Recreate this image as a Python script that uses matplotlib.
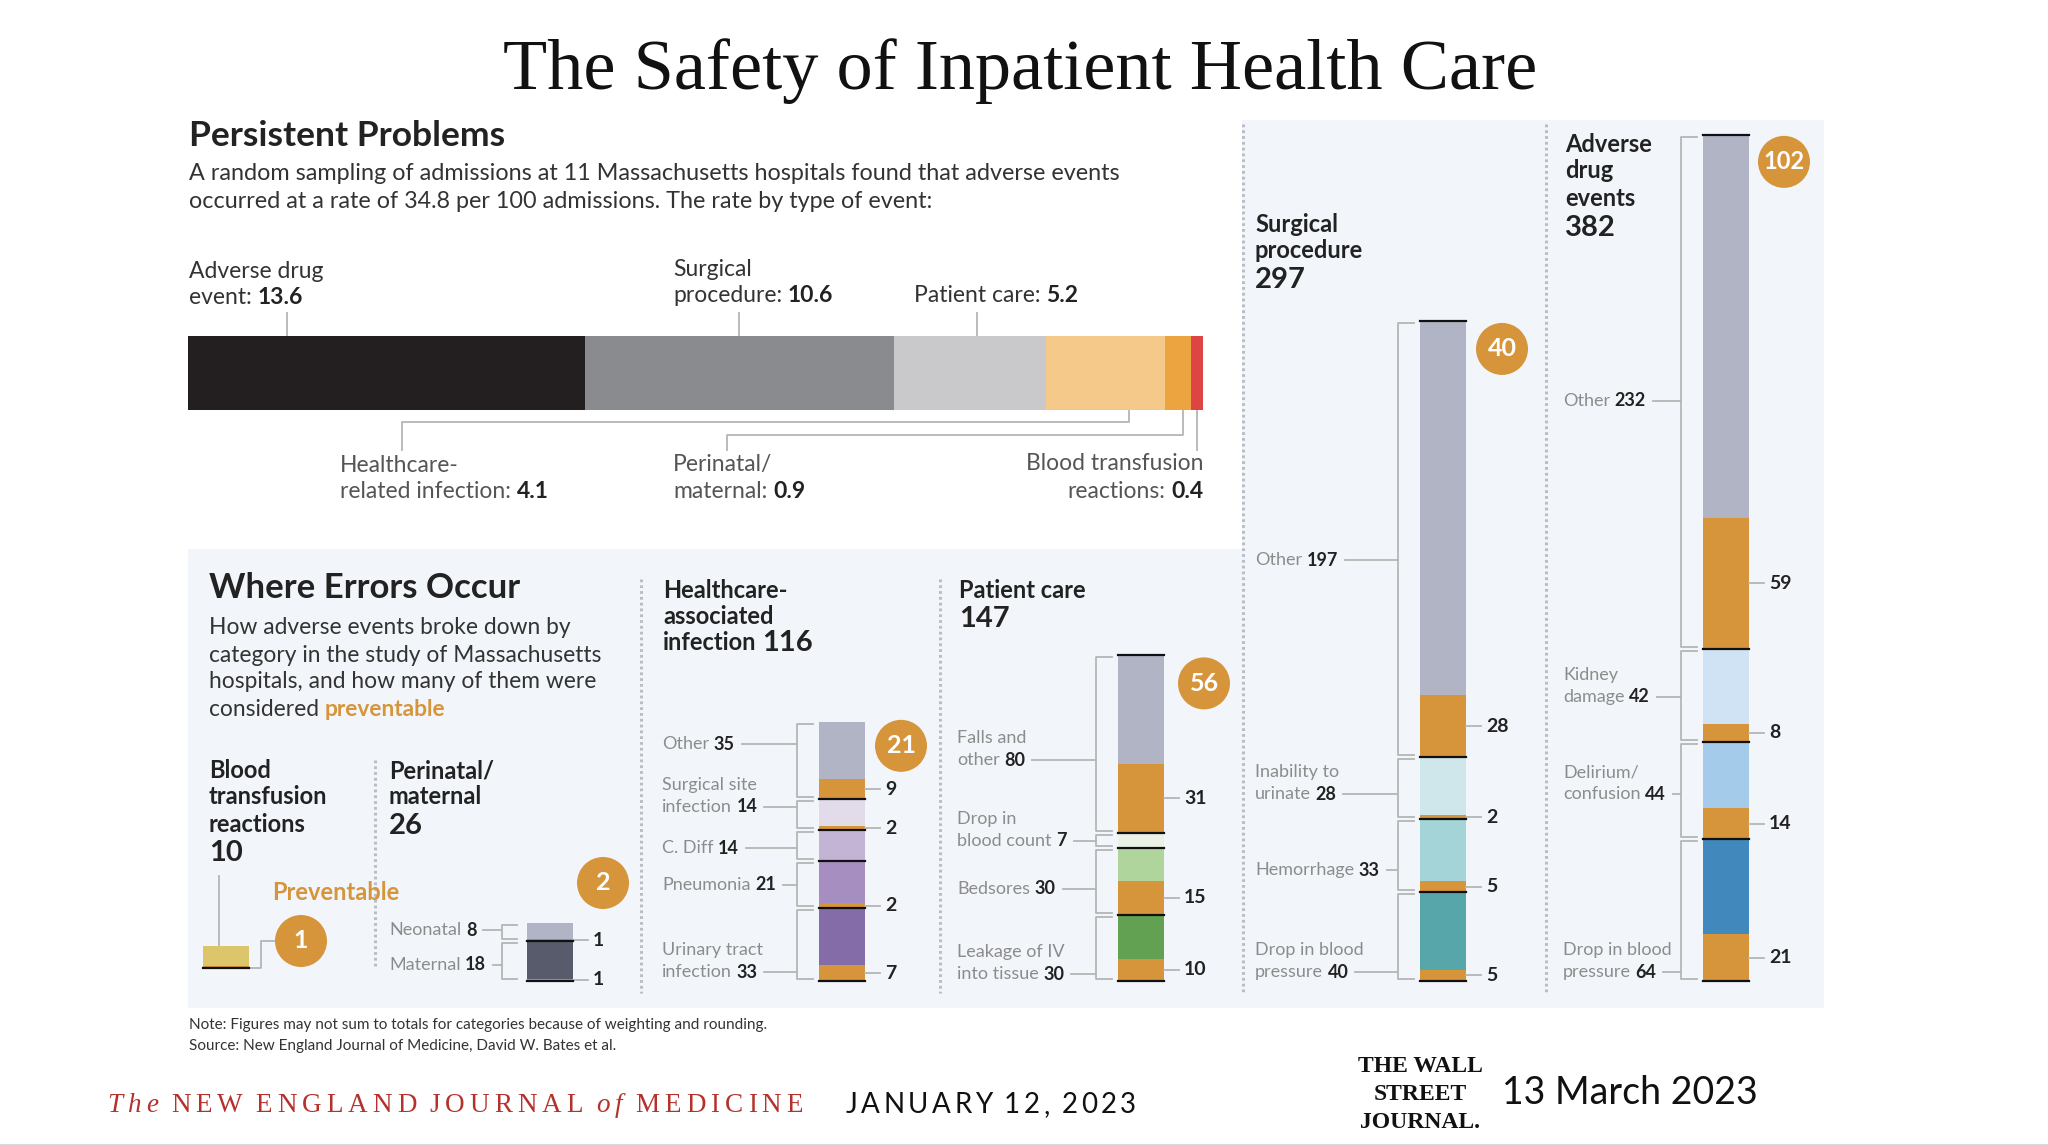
import numpy as np
import matplotlib.pyplot as plt
from matplotlib import font_manager
from matplotlib.patches import Circle, Rectangle

# -----------------------------
# Data
# -----------------------------
title = "The Safety of Inpatient Health Care"

rate_names = ["Adverse drug\nevent:", "Surgical\nprocedure:", "Patient care:",
              "Healthcare-\nrelated infection:", "Perinatal/\nmaternal:",
              "Blood transfusion\nreactions:"]
rate_vals = [13.6, 10.6, 5.2, 4.1, 0.9, 0.4]

blood_vals = [10]
blood_prev = [1]
blood_total, blood_prev_total = 10, 1

peri_cats = ["Neonatal", "Maternal"]
peri_vals = [8, 18]
peri_prev = [1, 1]
peri_total, peri_prev_total = 26, 2

hai_cats = ["Other", "Surgical site\ninfection", "C. Diff", "Pneumonia", "Urinary tract\ninfection"]
hai_vals = [35, 14, 14, 21, 33]
hai_prev = [9, 2, 0, 2, 7]
hai_total, hai_prev_total = 116, 21

pc_cats = ["Falls and\nother", "Drop in\nblood count", "Bedsores", "Leakage of IV\ninto tissue"]
pc_vals = [80, 7, 30, 30]
pc_prev = [31, 0, 15, 10]
pc_total, pc_prev_total = 147, 56

surg_cats = ["Other", "Inability to\nurinate", "Hemorrhage", "Drop in blood\npressure"]
surg_vals = [197, 28, 33, 40]
surg_prev = [28, 2, 5, 5]
surg_total, surg_prev_total = 297, 40

ade_cats = ["Other", "Kidney\ndamage", "Delirium/\nconfusion", "Drop in blood\npressure"]
ade_vals = [232, 42, 44, 64]
ade_prev = [59, 8, 14, 21]
ade_total, ade_prev_total = 382, 102

# -----------------------------
# Style
# -----------------------------
names = {f.name for f in font_manager.fontManager.ttflist}
SANS = "Lato" if "Lato" in names else "DejaVu Sans"
SERIF = "Liberation Serif" if "Liberation Serif" in names else "DejaVu Serif"

ORANGE = "#d6953b"
DARK = "#222222"
GRAY_TXT = "#8c8c8c"
LINE = "#b5b5b5"
PANEL = "#f2f6fa"
DOTS = "#b9bdc6"

rate_colors = ["#231f20", "#8a8b8e", "#c9c9cb", "#f5c98a", "#eba43f", "#dd4545"]
blood_colors = ["#dcc56b"]
peri_colors = ["#b1b4c4", "#575b6b"]
hai_colors = ["#b1b4c4", "#e1dbea", "#c3b3d5", "#a68fc0", "#836ca7"]
pc_colors = ["#b1b4c4", "#e9f2e4", "#afd49c", "#62a152"]
surg_colors = ["#b1b4c4", "#cfe7ea", "#a4d4d7", "#57a7aa"]
ade_colors = ["#b1b4c4", "#d0e3f4", "#a5cbea", "#4189bd"]

W, H = 2048, 1146
BASE = 981      # pixel row of the column baseline
SCALE = 2.215   # pixels per event
BAR_W = 46

fig = plt.figure(figsize=(W / 100, H / 100), dpi=100)
ax = fig.add_axes([0, 0, 1, 1])
ax.set_xlim(0, W)
ax.set_ylim(H, 0)
ax.axis("off")

# columns share one count scale
cax = fig.add_axes([0, 0, 1, 1])
cax.set_xlim(0, W)
cax.set_ylim((BASE - H) / SCALE, BASE / SCALE)
cax.axis("off")
cax.patch.set_visible(False)


def c2px(x, v):
    return ax.transData.inverted().transform(cax.transData.transform((x, v)))


# -----------------------------
# Backgrounds, separators
# -----------------------------
ax.add_patch(Rectangle((188, 549), 1242 - 188, 1008 - 549, color=PANEL, zorder=0, lw=0))
ax.add_patch(Rectangle((1242, 120), 1824 - 1242, 1008 - 120, color=PANEL, zorder=0, lw=0))
ax.plot([0, W], [1145, 1145], color="#d5d5d5", lw=2)

for x, y0, y1 in [(375, 760, 966), (641, 579, 993), (940, 579, 993),
                  (1243, 124, 993), (1546, 124, 993)]:
    ax.plot([x, x], [y0, y1], color=DOTS, lw=2.2, ls=(0, (0.9, 1.0)), zorder=1)

# -----------------------------
# Title + Persistent Problems
# -----------------------------
ax.text(1020, 89, title, ha="center", va="baseline", family=SERIF, fontsize=52, color="#111111")
ax.text(189, 136, "Persistent Problems", ha="left", va="center", family=SANS,
        fontweight="bold", fontsize=25.5, color=DARK)
ax.text(189, 174, "A random sampling of admissions at 11 Massachusetts hospitals found that adverse events",
        va="center", family=SANS, fontsize=16.8, color="#333333")
ax.text(189, 202, "occurred at a rate of 34.8 per 100 admissions. The rate by type of event:",
        va="center", family=SANS, fontsize=16.8, color="#333333")

BX0, BX1, BY0, BY1 = 188, 1203, 336, 410
hax = fig.add_axes([BX0 / W, 1 - BY1 / H, (BX1 - BX0) / W, (BY1 - BY0) / H])
lefts = np.cumsum(rate_vals) - np.array(rate_vals)
hax.barh(0, rate_vals, left=lefts, height=1, color=rate_colors, lw=0)
hax.set_xlim(0, sum(rate_vals))
hax.set_ylim(-0.5, 0.5)
hax.axis("off")


def hx(v):
    return ax.transData.inverted().transform(hax.transData.transform((v, 0)))[0]


def mixed(x, y, text, num, size, lcolor=GRAY_TXT, ncolor=DARK, lh=None, ha="left"):
    lines = text.split("\n")
    lh = lh if lh else size * 1.33 * 100 / 72
    n = len(lines)
    for k, line in enumerate(lines[:-1]):
        ax.text(x, y - (n - 1 - k) * lh, line, va="center", ha=ha, family=SANS,
                fontsize=size, color=lcolor)
    t = ax.text(x, y, lines[-1], va="center", ha=ha, family=SANS, fontsize=size, color=lcolor)
    a = ax.annotate(num, xy=(1, 0.5), xycoords=t, xytext=(size * 0.25, 0),
                    textcoords="offset points", va="center", ha="left", family=SANS,
                    fontsize=size, fontweight="bold", color=ncolor)
    return t, a


# labels of the rate bar
top_lbl = [(189, 298, 0.25), (673, 296, 0.5), (914, 295, 0.55)]
for i, (x, y, f) in enumerate(top_lbl):
    mixed(x, y, rate_names[i], f"{rate_vals[i]}", 16.5, lcolor="#333333", ncolor=DARK, lh=26)
    lx = hx(lefts[i] + f * rate_vals[i])
    ax.plot([lx, lx], [313, BY0], color=LINE, lw=1.3)

bot_lbl = [(340, 491, 0.7, 422, 402), (673, 491, 0.7, 435, 727)]
for j, (x, y, f, yh, xd) in enumerate(bot_lbl):
    i = 3 + j
    mixed(x, y, rate_names[i], f"{rate_vals[i]}", 16.5, lcolor="#555555", ncolor=DARK, lh=26)
    lx = hx(lefts[i] + f * rate_vals[i])
    ax.plot([lx, lx, xd, xd], [BY1, yh, yh, 450], color=LINE, lw=1.3)
# blood transfusion label, right aligned to bar end
ax.text(BX1, 464, rate_names[5].split("\n")[0], ha="right", va="center", family=SANS,
        fontsize=16.5, color="#555555")
tb = ax.text(BX1, 491, f"{rate_vals[5]}", ha="right", va="center", family=SANS,
             fontsize=16.5, fontweight="bold", color=DARK)
ax.annotate(rate_names[5].split("\n")[1], xy=(0, 0.5), xycoords=tb, xytext=(-4, 0),
            textcoords="offset points", ha="right", va="center", family=SANS,
            fontsize=16.5, color="#555555")
lx = hx(lefts[5] + 0.5 * rate_vals[5])
ax.plot([lx, lx], [BY1, 450], color=LINE, lw=1.3)

# -----------------------------
# Where Errors Occur
# -----------------------------
ax.text(209, 588, "Where Errors Occur", va="center", family=SANS, fontweight="bold",
        fontsize=25, color=DARK)
desc = ["How adverse events broke down by", "category in the study of Massachusetts",
        "hospitals, and how many of them were"]
for k, line in enumerate(desc):
    ax.text(209, 628 + 27 * k, line, va="center", family=SANS, fontsize=16.4, color="#333333")
tc = ax.text(209, 709, "considered", va="center", family=SANS, fontsize=16.4, color="#333333")
ax.annotate("preventable", xy=(1, 0.5), xycoords=tc, xytext=(4, 0), textcoords="offset points",
            va="center", family=SANS, fontsize=16.4, fontweight="bold", color=ORANGE)


def header(x, ys, lines, num, size=17, nsize=21, inline=False):
    for y, line in zip(ys, lines):
        t = ax.text(x, y, line, va="center", family=SANS, fontweight="bold", fontsize=size, color=DARK)
    if inline:
        ax.annotate(num, xy=(1, 0.5), xycoords=t, xytext=(4, 0), textcoords="offset points",
                    va="center", family=SANS, fontweight="bold", fontsize=nsize, color=DARK)
    else:
        ax.text(x, ys[-1] + 29, num, va="center", family=SANS, fontweight="bold",
                fontsize=nsize, color=DARK)


header(209, [771, 797, 824], ["Blood", "transfusion", "reactions"], f"{blood_total}")
header(389, [771, 797], ["Perinatal/", "maternal"], f"{peri_total}")
header(663, [590, 616, 643], ["Healthcare-", "associated", "infection"], f"{hai_total}", inline=True)
header(959, [590], ["Patient care"], f"{pc_total}")
header(1255, [225, 251], ["Surgical", "procedure"], f"{surg_total}")
header(1565, [145, 171, 199], ["Adverse", "drug", "events"], f"{ade_total}")

ax.text(272, 892, "Preventable", va="center", family=SANS, fontweight="bold",
        fontsize=17, color=ORANGE)


def badge(cx, cy, num, r=26, size=18):
    ax.add_patch(Circle((cx, cy), r, color=ORANGE, zorder=5, lw=0))
    ax.text(cx, cy, num, ha="center", va="center", family=SANS, fontweight="bold",
            fontsize=size, color="white", zorder=6)


# -----------------------------
# Stacked columns
# -----------------------------
def column(cats, vals, prev, colors, left, label_x, label_y, top_line=True,
           base=0.0, lsize=13, gap_b=22, tick_b=6):
    vals = np.array(vals, float)
    prev = np.array(prev, float)
    xc = left + BAR_W / 2
    bottoms = base + np.array([vals[i + 1:].sum() for i in range(len(vals))])
    cax.bar(xc, prev, bottom=bottoms, width=BAR_W, color=ORANGE, lw=0, zorder=2)
    cax.bar(xc, vals - prev, bottom=bottoms + prev, width=BAR_W, color=colors, lw=0, zorder=2)
    for b in bottoms:
        cax.plot([left, left + BAR_W], [b, b], color="#111111", lw=1.6, zorder=3)
    if top_line:
        t = bottoms[0] + vals[0]
        cax.plot([left, left + BAR_W], [t, t], color="#111111", lw=1.6, zorder=3)
    right = left + BAR_W
    g = 2 / SCALE
    bx = left - gap_b
    for i in range(len(vals)):
        if cats is None:
            continue
        y0, y1 = bottoms[i] + g, bottoms[i] + vals[i] - g
        cax.plot([left - tick_b, bx, bx, left - tick_b], [y1, y1, y0, y0], color=LINE, lw=1.3)
        if prev[i] > 0:
            ym = bottoms[i] + prev[i] / 2
            cax.plot([right, right + 15], [ym, ym], color=LINE, lw=1.3)
            cax.text(right + 20, ym, f"{int(prev[i])}", va="center", ha="left", family=SANS,
                     fontweight="bold", fontsize=14, color=DARK)
    anns = []
    if cats is not None:
        for i, (c, v) in enumerate(zip(cats, vals)):
            _, a = mixed(label_x, label_y[i], c, f"{int(v)}", lsize, lh=22)
            anns.append((a, label_y[i], bx))
    top_px = c2px(xc, bottoms[0] + vals[0])[1]
    return right, top_px, anns


leaders = []
# blood transfusion (single bar, no categories)
b_right, b_top, _ = column(None, blood_vals, blood_prev, blood_colors, 203, 0, [],
                           top_line=False, base=(BASE - 968) / SCALE)
ax.plot([219, 219], [876, b_top], color=LINE, lw=1.3)
ax.plot([b_right, 261, 261, 275], [968, 968, 941, 941], color=LINE, lw=1.3)
badge(301, 941, f"{blood_prev_total}")

r, t, an = column(peri_cats, peri_vals, peri_prev, peri_colors, 527, 389, [930, 965],
                  top_line=False, gap_b=25, tick_b=10)
leaders += an
badge(603, 883, f"{peri_prev_total}")

r, t, an = column(hai_cats, hai_vals, hai_prev, hai_colors, 819, 662, [744, 807, 848, 885, 972],
                  top_line=False)
leaders += an
badge(r + 36, t + 24, f"{hai_prev_total}")

r, t, an = column(pc_cats, pc_vals, pc_prev, pc_colors, 1118, 957, [760, 841, 889, 974])
leaders += an
badge(r + 40, t + 28, f"{pc_prev_total}")

r, t, an = column(surg_cats, surg_vals, surg_prev, surg_colors, 1420, 1255, [560, 794, 870, 972])
leaders += an
badge(r + 36, t + 28, f"{surg_prev_total}")

r, t, an = column(ade_cats, ade_vals, ade_prev, ade_colors, 1703, 1563, [401, 697, 794, 972])
leaders += an
badge(r + 35, t + 27, f"{ade_prev_total}", size=17)

# leader lines from label ends to brackets
fig.canvas.draw()
inv = ax.transData.inverted()
for a, y, bx in leaders:
    bb = a.get_window_extent()
    x_end = inv.transform((bb.x1, bb.y0))[0] + 7
    ax.plot([x_end, bx], [y, y], color=LINE, lw=1.3)

# -----------------------------
# Notes and footer
# -----------------------------
ax.text(189, 1025, "Note: Figures may not sum to totals for categories because of weighting and rounding.",
        va="center", family=SANS, fontsize=11, color="#333333")
ax.text(189, 1046, "Source: New England Journal of Medicine, David W. Bates et al.",
        va="center", family=SANS, fontsize=11, color="#333333")


def spaced(x, y, parts, size, color, family, track):
    t = None
    extra = 0
    for word, style in parts:
        for ch in word:
            if ch == " ":
                extra += size * 0.3
                continue
            kw = dict(family=family, fontsize=size, color=color, style=style)
            if t is None:
                t = ax.text(x, y, ch, va="center", ha="left", **kw)
            else:
                t = ax.annotate(ch, xy=(1, 0), xycoords=t, xytext=(track + extra, 0),
                                textcoords="offset points", va="bottom", ha="left", **kw)
            extra = 0
        extra += size * 0.3


spaced(107, 1105, [("The", "italic"), ("NEW ENGLAND JOURNAL", "normal"), ("of", "italic"),
                   ("MEDICINE", "normal")], 19.5, "#b5312c", SERIF, 3.6)
spaced(846, 1105, [("JANUARY", "normal"), ("12,", "normal"), ("2023", "normal")],
       20, "#111111", SANS, 2.5)

for y, line in zip([1066, 1094, 1123], ["THE WALL", "STREET", "JOURNAL."]):
    ax.text(1420, y, line, ha="center", va="center", family=SERIF, fontweight="bold",
            fontsize=17, color="#111111", fontstretch="condensed")
ax.text(1502, 1093, "13 March 2023", ha="left", va="center", family=SANS, fontsize=27,
        color="#111111")

fig.savefig("out.png", dpi=100)
